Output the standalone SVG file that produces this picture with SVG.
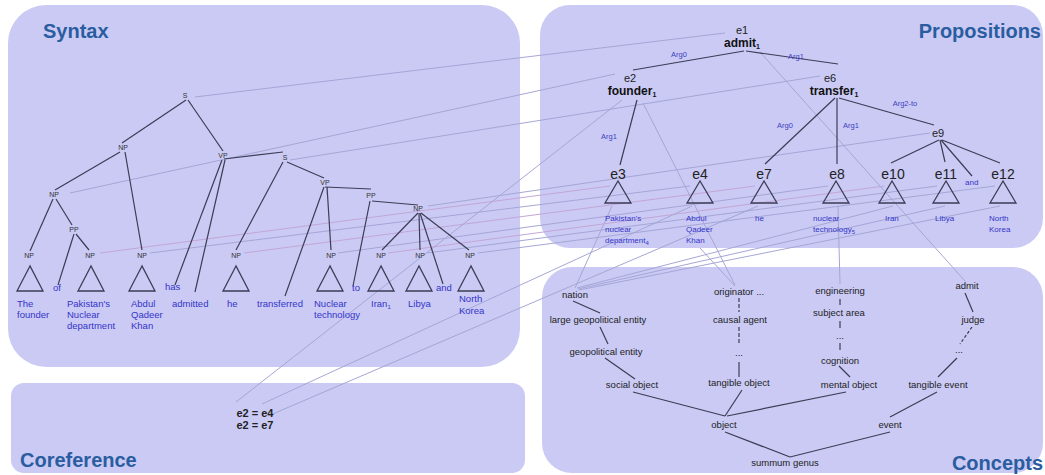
<svg xmlns="http://www.w3.org/2000/svg" width="1045" height="475" viewBox="0 0 1045 475">
<style>
.panel{fill:#cacaf5;stroke:none}
.title{font-family:"Liberation Sans",Arial,sans-serif;font-weight:bold;font-size:20px;fill:#2a5d9f}
.edge{stroke:#3c3c55;stroke-width:1.2;fill:none}
.link{stroke:#a6a6d6;stroke-width:1;fill:none}
.linkp{stroke:#c2a6d6;stroke-width:1;fill:none}
.tri{fill:none;stroke:#3c3c55;stroke-width:1.3}
.np{font-family:"Liberation Sans",Arial,sans-serif;font-size:7px;fill:#333;text-anchor:middle}
.leaf{font-family:"Liberation Sans",Arial,sans-serif;font-size:9.5px;fill:#3535c8}
.pleaf{font-family:"Liberation Sans",Arial,sans-serif;font-size:8px;fill:#3535c8}
.arg{font-family:"Liberation Sans",Arial,sans-serif;font-size:7.5px;fill:#4040c0;text-anchor:middle}
.eid{font-family:"Liberation Sans",Arial,sans-serif;font-size:14px;fill:#222;text-anchor:middle}
.eidS{font-family:"Liberation Sans",Arial,sans-serif;font-size:11px;fill:#222;text-anchor:middle}
.pred{font-family:"Liberation Sans",Arial,sans-serif;font-size:12px;font-weight:bold;fill:#111;text-anchor:middle}
.con{font-family:"Liberation Sans",Arial,sans-serif;font-size:9.5px;fill:#222;text-anchor:middle}
.coref{font-family:"Liberation Sans Narrow","Liberation Sans",Arial,sans-serif;font-size:11px;font-weight:bold;fill:#222;text-anchor:middle}
</style>

<!-- Panels -->
<g id="panel-syntax"><rect class="panel" x="8" y="5" width="512" height="362" rx="38"/><text class="title" x="43" y="38">Syntax</text></g>
<g id="panel-coreference"><rect class="panel" x="11" y="383" width="514" height="90" rx="13"/><text class="title" x="20" y="467">Coreference</text></g>
<g id="panel-propositions"><rect class="panel" x="540" y="5" width="503" height="243" rx="30"/><text class="title" x="1041" y="38" text-anchor="end">Propositions</text></g>
<g id="panel-concepts"><rect class="panel" x="542" y="267" width="501" height="206" rx="30"/><text class="title" x="1043" y="470" text-anchor="end">Concepts</text></g>

<!-- cross-panel links -->
<g id="links">
<line class="link" x1="195" y1="97" x2="725" y2="33"/>
<line class="link" x1="70" y1="193" x2="615" y2="74"/>
<line class="link" x1="290" y1="160" x2="820" y2="76"/>
<line class="link" x1="428" y1="206" x2="930" y2="133"/>
<line class="linkp" x1="100" y1="253" x2="610" y2="186"/>
<line class="link" x1="150" y1="253" x2="690" y2="186"/>
<line class="linkp" x1="244" y1="253" x2="755" y2="186"/>
<line class="link" x1="338" y1="253" x2="828" y2="186"/>
<line class="linkp" x1="388" y1="253" x2="884" y2="186"/>
<line class="link" x1="427" y1="253" x2="937" y2="186"/>
<line class="link" x1="478" y1="253" x2="995" y2="186"/>
<line class="link" x1="760" y1="52" x2="965" y2="281"/>
<line class="link" x1="643" y1="103" x2="735" y2="285"/>
<line class="link" x1="838" y1="206" x2="840" y2="284"/>
<line class="link" x1="612" y1="206" x2="575" y2="288"/>
<line class="link" x1="893" y1="206" x2="577" y2="288"/>
<line class="link" x1="945" y1="206" x2="578" y2="289"/>
<line class="link" x1="1000" y1="206" x2="579" y2="290"/>
<line class="link" x1="700" y1="248" x2="735" y2="286"/>
<line class="link" x1="236" y1="402" x2="622" y2="100"/>
<line class="link" x1="262" y1="404" x2="692" y2="206"/>
<line class="link" x1="268" y1="416" x2="758" y2="206"/>
</g>

<!-- Syntax tree edges -->
<g id="syntax-edges">
<line class="edge" x1="186" y1="100" x2="122" y2="143"/>
<line class="edge" x1="188" y1="100" x2="223" y2="151"/>
<line class="edge" x1="120" y1="152" x2="55" y2="190"/>
<line class="edge" x1="125" y1="152" x2="142" y2="250"/>
<line class="edge" x1="53" y1="199" x2="30" y2="251"/>
<line class="edge" x1="56" y1="199" x2="72" y2="225"/>
<line class="edge" x1="74" y1="234" x2="58" y2="285"/>
<line class="edge" x1="76" y1="234" x2="89" y2="250"/>
<line class="edge" x1="224" y1="159" x2="283" y2="152"/>
<line class="edge" x1="222" y1="160" x2="175" y2="285"/>
<line class="edge" x1="225" y1="160" x2="195" y2="292"/>
<line class="edge" x1="283" y1="162" x2="236" y2="250"/>
<line class="edge" x1="287" y1="162" x2="324" y2="178"/>
<line class="edge" x1="325" y1="187" x2="371" y2="189"/>
<line class="edge" x1="324" y1="187" x2="285" y2="296"/>
<line class="edge" x1="327" y1="187" x2="331" y2="250"/>
<line class="edge" x1="372" y1="201" x2="418" y2="205"/>
<line class="edge" x1="370" y1="201" x2="353" y2="286"/>
<line class="edge" x1="418" y1="213" x2="382" y2="250"/>
<line class="edge" x1="419" y1="213" x2="420" y2="250"/>
<line class="edge" x1="420" y1="213" x2="443" y2="284"/>
<line class="edge" x1="421" y1="213" x2="469" y2="250"/>
</g>

<!-- Syntax nodes -->
<g id="syn-S1"><text class="np" x="185" y="98">S</text></g>
<g id="syn-NP1"><text class="np" x="123" y="150">NP</text></g>
<g id="syn-VP1"><text class="np" x="223" y="158">VP</text></g>
<g id="syn-S2"><text class="np" x="285" y="160">S</text></g>
<g id="syn-VP2"><text class="np" x="325" y="185">VP</text></g>
<g id="syn-PP2"><text class="np" x="371" y="198">PP</text></g>
<g id="syn-NP-coord"><text class="np" x="418" y="211">NP</text></g>
<g id="syn-NP2"><text class="np" x="54" y="197">NP</text></g>
<g id="syn-PP1"><text class="np" x="74" y="232">PP</text></g>

<g id="syn-the-founder"><text class="np" x="29" y="258">NP</text><polygon class="tri" points="30,266 17,291 43,291"/><text class="leaf" x="17" y="307">The</text><text class="leaf" x="17" y="318">founder</text></g>
<g id="syn-of"><text class="leaf" x="53" y="291">of</text></g>
<g id="syn-pakistan"><text class="np" x="90" y="258">NP</text><polygon class="tri" points="91,266 78,291 104,291"/><text class="leaf" x="67" y="307">Pakistan's</text><text class="leaf" x="67" y="318">Nuclear</text><text class="leaf" x="67" y="329">department</text></g>
<g id="syn-khan"><text class="np" x="142" y="258">NP</text><polygon class="tri" points="142,266 129,291 155,291"/><text class="leaf" x="131" y="307">Abdul</text><text class="leaf" x="131" y="318">Qadeer</text><text class="leaf" x="131" y="329">Khan</text></g>
<g id="syn-has"><text class="leaf" x="165" y="290">has</text></g>
<g id="syn-admitted"><text class="leaf" x="172" y="307">admitted</text></g>
<g id="syn-he"><text class="np" x="236" y="258">NP</text><polygon class="tri" points="236,266 223,291 249,291"/><text class="leaf" x="227" y="307">he</text></g>
<g id="syn-transferred"><text class="leaf" x="257" y="307">transferred</text></g>
<g id="syn-nuclear"><text class="np" x="331" y="258">NP</text><polygon class="tri" points="330,266 317,291 343,291"/><text class="leaf" x="314" y="307">Nuclear</text><text class="leaf" x="314" y="318">technology</text></g>
<g id="syn-to"><text class="leaf" x="352" y="291">to</text></g>
<g id="syn-iran"><text class="np" x="381" y="258">NP</text><polygon class="tri" points="381,266 368,291 394,291"/><text class="leaf" x="371" y="307">Iran<tspan font-size="6" dy="2">1</tspan></text></g>
<g id="syn-libya"><text class="np" x="420" y="258">NP</text><polygon class="tri" points="419,266 406,291 432,291"/><text class="leaf" x="408" y="307">Libya</text></g>
<g id="syn-and"><text class="leaf" x="436" y="291">and</text></g>
<g id="syn-korea"><text class="np" x="470" y="258">NP</text><polygon class="tri" points="471,266 458,291 484,291"/><text class="leaf" x="459" y="302">North</text><text class="leaf" x="459" y="314">Korea</text></g>

<!-- Coreference -->
<g id="coref"><text class="coref" x="255" y="417">e2 = e4</text><text class="coref" x="255" y="429">e2 = e7</text></g>

<!-- Proposition edges -->
<g id="prop-edges">
<line class="edge" x1="744" y1="51" x2="633" y2="70"/>
<line class="edge" x1="746" y1="51" x2="838" y2="64"/>
<line class="edge" x1="637" y1="100" x2="620" y2="165"/>
<line class="edge" x1="835" y1="98" x2="765" y2="164"/>
<line class="edge" x1="837" y1="98" x2="837" y2="164"/>
<line class="edge" x1="839" y1="98" x2="934" y2="125"/>
<line class="edge" x1="939" y1="140" x2="891" y2="163"/>
<line class="edge" x1="940" y1="140" x2="945" y2="162"/>
<line class="edge" x1="941" y1="140" x2="972" y2="176"/>
<line class="edge" x1="942" y1="140" x2="1000" y2="163"/>
</g>
<g id="prop-args">
<text class="arg" x="679" y="57">Arg0</text>
<text class="arg" x="796" y="59">Arg1</text>
<text class="arg" x="609" y="139">Arg1</text>
<text class="arg" x="785" y="128">Arg0</text>
<text class="arg" x="851" y="128">Arg1</text>
<text class="arg" x="905" y="106">Arg2-to</text>
</g>

<g id="prop-e1"><text class="eidS" x="742" y="34">e1</text><text class="pred" x="742" y="47">admit<tspan font-size="7" dy="2">1</tspan></text></g>
<g id="prop-e2"><text class="eidS" x="630" y="82">e2</text><text class="pred" x="632" y="95">founder<tspan font-size="7" dy="2">1</tspan></text></g>
<g id="prop-e6"><text class="eidS" x="830" y="82">e6</text><text class="pred" x="834" y="95">transfer<tspan font-size="7" dy="2">1</tspan></text></g>
<g id="prop-e9"><text class="eidS" x="938" y="137">e9</text></g>

<g id="prop-e3"><text class="eid" x="618" y="179">e3</text><polygon class="tri" points="618,181 605,203 631,203"/><text class="pleaf" x="605" y="221">Pakistan's</text><text class="pleaf" x="605" y="232">nuclear</text><text class="pleaf" x="605" y="243">department<tspan font-size="6" dy="2">4</tspan></text></g>
<g id="prop-e4"><text class="eid" x="700" y="179">e4</text><polygon class="tri" points="700,181 687,203 713,203"/><text class="pleaf" x="686" y="221">Abdul</text><text class="pleaf" x="686" y="232">Qadeer</text><text class="pleaf" x="686" y="243">Khan</text></g>
<g id="prop-e7"><text class="eid" x="764" y="179">e7</text><polygon class="tri" points="764,181 751,203 777,203"/><text class="pleaf" x="755" y="221">he</text></g>
<g id="prop-e8"><text class="eid" x="837" y="179">e8</text><polygon class="tri" points="836,181 823,203 849,203"/><text class="pleaf" x="813" y="221">nuclear</text><text class="pleaf" x="813" y="232">technology<tspan font-size="6" dy="2">5</tspan></text></g>
<g id="prop-e10"><text class="eid" x="893" y="179">e10</text><polygon class="tri" points="892,181 879,203 905,203"/><text class="pleaf" x="885" y="221">Iran</text></g>
<g id="prop-e11"><text class="eid" x="946" y="179">e11</text><polygon class="tri" points="946,181 933,203 959,203"/><text class="pleaf" x="935" y="221">Libya</text></g>
<g id="prop-and"><text class="pleaf" x="965" y="185">and</text></g>
<g id="prop-e12"><text class="eid" x="1003" y="179">e12</text><polygon class="tri" points="1003,181 990,203 1016,203"/><text class="pleaf" x="989" y="221">North</text><text class="pleaf" x="989" y="232">Korea</text></g>

<!-- Concept edges -->
<g id="concept-edges">
<line class="edge" x1="573" y1="301" x2="600" y2="313"/>
<line class="edge" x1="600" y1="327" x2="608" y2="344"/>
<line class="edge" x1="605" y1="358" x2="635" y2="379"/>
<line class="edge" x1="633" y1="392" x2="725" y2="416"/>
<line class="edge" x1="742" y1="390" x2="725" y2="416"/>
<line class="edge" x1="727" y1="416" x2="846" y2="392"/>
<line class="edge" x1="725" y1="432" x2="790" y2="457"/>
<line class="edge" x1="890" y1="432" x2="790" y2="457"/>
<line class="edge" x1="937" y1="392" x2="890" y2="417"/>
<line class="edge" x1="965" y1="293" x2="973" y2="312"/>
<line class="edge" x1="972" y1="327" x2="960" y2="344" stroke-dasharray="3,2"/>
<line class="edge" x1="957" y1="358" x2="938" y2="377"/>
<line class="edge" x1="839" y1="366" x2="850" y2="377"/>
<line class="edge" x1="739" y1="298" x2="739" y2="312" stroke-dasharray="4,2"/>
<line class="edge" x1="739" y1="327" x2="739" y2="345" stroke-dasharray="4,2"/>
<line class="edge" x1="739" y1="362" x2="739" y2="377"/>
<line class="edge" x1="840" y1="299" x2="840" y2="305"/>
<line class="edge" x1="840" y1="321" x2="840" y2="328"/>
<line class="edge" x1="840" y1="343" x2="840" y2="350"/>
</g>

<g id="c-nation"><text class="con" x="575" y="298">nation</text></g>
<g id="c-lge"><text class="con" x="598" y="323">large geopolitical entity</text></g>
<g id="c-ge"><text class="con" x="606" y="355">geopolitical entity</text></g>
<g id="c-social"><text class="con" x="632" y="388">social object</text></g>
<g id="c-originator"><text class="con" x="739" y="295">originator ...</text></g>
<g id="c-causal"><text class="con" x="740" y="323">causal agent</text></g>
<g id="c-dots1"><text class="con" x="739" y="356">...</text></g>
<g id="c-tangobj"><text class="con" x="739" y="386">tangible object</text></g>
<g id="c-object"><text class="con" x="724" y="428">object</text></g>
<g id="c-engineering"><text class="con" x="840" y="294">engineering</text></g>
<g id="c-subject"><text class="con" x="839" y="316">subject area</text></g>
<g id="c-dots2"><text class="con" x="840" y="339">...</text></g>
<g id="c-cognition"><text class="con" x="840" y="364">cognition</text></g>
<g id="c-mental"><text class="con" x="849" y="388">mental object</text></g>
<g id="c-admit"><text class="con" x="967" y="289">admit</text></g>
<g id="c-judge"><text class="con" x="973" y="323">judge</text></g>
<g id="c-dots3"><text class="con" x="959" y="353">...</text></g>
<g id="c-tangevt"><text class="con" x="938" y="388">tangible event</text></g>
<g id="c-event"><text class="con" x="890" y="428">event</text></g>
<g id="c-summum"><text class="con" x="785" y="466">summum genus</text></g>
</svg>
